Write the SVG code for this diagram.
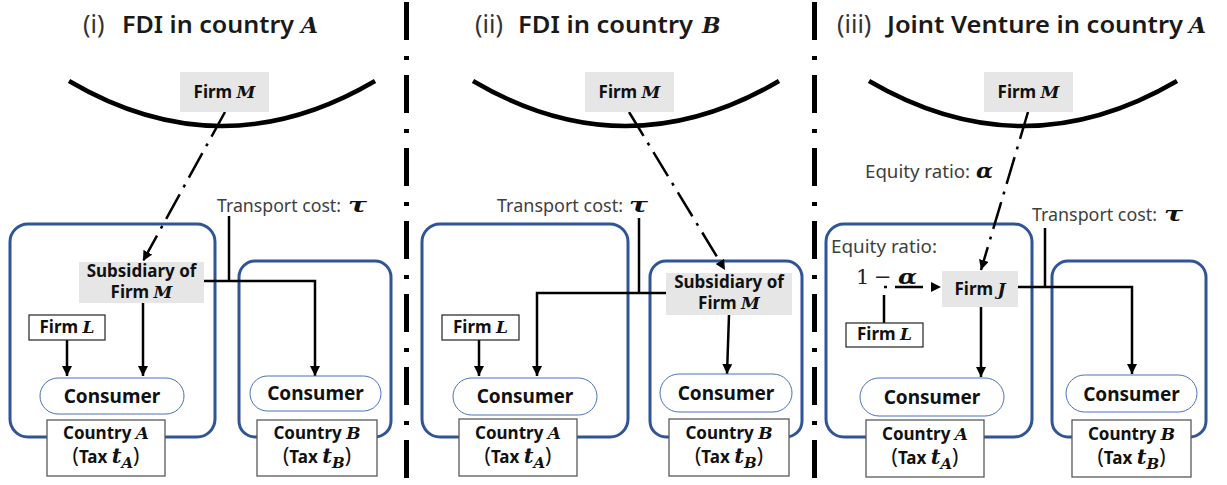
<svg xmlns="http://www.w3.org/2000/svg" width="1227" height="485" viewBox="0 0 1227 485">
  <style>
    .title{font-family:"Noto Sans","Liberation Sans",sans-serif;font-weight:600;font-size:23px;fill:#1a1a1a}
    .paren{font-family:"Noto Sans","Liberation Sans",sans-serif;font-weight:400;font-size:25px;fill:#333}
    .math{font-family:"DejaVu Serif","Liberation Serif",serif;font-style:italic;font-weight:bold;font-size:17px}
    .tm{font-family:"DejaVu Serif","Liberation Serif",serif;font-style:italic;font-weight:bold;font-size:22px;fill:#1a1a1a}
    .lbl{font-family:"Noto Sans","Liberation Sans",sans-serif;font-weight:bold;font-size:17px;fill:#111}
    .big{font-size:19px}
    .np{font-family:"Noto Sans","Liberation Sans",sans-serif;font-weight:400;font-size:21px}
    .tt{font-size:21px}
    .ts{font-size:15px}
    .note{font-family:"Noto Sans","Liberation Sans",sans-serif;font-weight:400;font-size:18px;fill:#404040}
    .nm{font-family:"DejaVu Serif","Liberation Serif",serif;font-style:italic;font-weight:bold;font-size:21px;fill:#111}
    .eq{font-family:"DejaVu Serif","Liberation Serif",serif;font-size:21px;fill:#222}
    .country{fill:none;stroke:#2f5597;stroke-width:3}
    .cons{fill:#fff;stroke:#4a72b8;stroke-width:1}
    .gray{fill:#e7e6e6}
    .tag{fill:#fff;stroke:#595959;stroke-width:1.3}
    .firmL{fill:#fff;stroke:#222;stroke-width:1.2}
    .flow{fill:none;stroke:#000;stroke-width:2.5}
    .own{fill:none;stroke:#000;stroke-width:2.5;stroke-dasharray:28 8 3 8}
    .curve{fill:none;stroke:#000;stroke-width:4.5}
    .divider{stroke:#000;stroke-width:5;stroke-dasharray:38 16 4 15}
  </style>
  <defs>
    <marker id="arr" viewBox="0 0 10 10" refX="10" refY="5" markerWidth="10" markerHeight="10" markerUnits="userSpaceOnUse" orient="auto">
      <path d="M0,0 L10,5 L0,10 z" fill="#000"/>
    </marker>
  </defs>

  <rect width="1227" height="485" fill="#fff"/>

  <!-- panel separators -->
  <g id="dividers">
    <line class="divider" x1="406.5" y1="2" x2="406.5" y2="485"/>
    <line class="divider" x1="814.5" y1="2" x2="814.5" y2="485"/>
  </g>

  <!-- titles -->
  <g id="title-i">
    <text class="paren" x="83" y="33">(i)</text>
    <text class="title" x="122" y="33" textLength="172" lengthAdjust="spacingAndGlyphs">FDI in country</text>
    <text class="tm" x="301" y="33">A</text>
  </g>
  <g id="title-ii">
    <text class="paren" x="475" y="33">(ii)</text>
    <text class="title" x="518" y="33" textLength="175" lengthAdjust="spacingAndGlyphs">FDI in country</text>
    <text class="tm" x="702" y="33">B</text>
  </g>
  <g id="title-iii">
    <text class="paren" x="837" y="33">(iii)</text>
    <text class="title" x="887" y="33" textLength="296" lengthAdjust="spacingAndGlyphs">Joint Venture in country</text>
    <text class="tm" x="1189" y="33">A</text>
  </g>

  <!-- border curves -->
  <g id="borders">
    <path class="curve" d="M69,81 Q222,171 375,81"/>
    <path class="curve" d="M473,81 Q626,171 779,81"/>
    <path class="curve" d="M869,81 Q1023,171 1177,81"/>
  </g>

  <!-- country frames -->
  <g id="countries">
    <rect id="i-countryA" class="country" x="10" y="224" width="205" height="213" rx="18"/>
    <rect id="i-countryB" class="country" x="239" y="261" width="152" height="176" rx="16"/>
    <rect id="ii-countryA" class="country" x="422" y="224" width="206" height="213" rx="18"/>
    <rect id="ii-countryB" class="country" x="650" y="261" width="152" height="176" rx="16"/>
    <rect id="iii-countryA" class="country" x="826" y="224" width="206" height="213" rx="18"/>
    <rect id="iii-countryB" class="country" x="1052" y="261" width="154" height="176" rx="16"/>
  </g>

  <!-- connectors -->
  <g id="connectors">
    <!-- panel i -->
    <path class="own" d="M225,112 L143,261" marker-end="url(#arr)"/>
    <path class="flow" d="M229,216 V281"/>
    <path class="flow" d="M204,281 H315 V376" marker-end="url(#arr)"/>
    <path class="flow" d="M143,303 V376" marker-end="url(#arr)"/>
    <path class="flow" d="M67,340 V376" marker-end="url(#arr)"/>
    <!-- panel ii -->
    <path class="own" d="M629,112 L725,270" marker-end="url(#arr)"/>
    <path class="flow" d="M639,218 V293"/>
    <path class="flow" d="M666,293 H537 V376" marker-end="url(#arr)"/>
    <path class="flow" d="M729,315 L727,374" marker-end="url(#arr)"/>
    <path class="flow" d="M479,340 V376" marker-end="url(#arr)"/>
    <!-- panel iii -->
    <path class="own" d="M1028,112 L981,270" marker-end="url(#arr)"/>
    <path class="own" d="M884,323 V287 H941" marker-end="url(#arr)"/>
    <path class="flow" d="M1045,228 V287"/>
    <path class="flow" d="M1018,287 H1132 V374" marker-end="url(#arr)"/>
    <path class="flow" d="M981,307 V377" marker-end="url(#arr)"/>
  </g>

  <!-- panel i nodes -->
  <g id="i-firmM">
    <rect class="gray" x="180" y="72" width="89" height="40"/>
    <text class="lbl" x="224.5" y="98" text-anchor="middle">Firm <tspan class="math">M</tspan></text>
  </g>
  <g id="i-subsidiary">
    <rect class="gray" x="79" y="262" width="125" height="41"/>
    <text class="lbl" x="141.5" y="277" text-anchor="middle">Subsidiary of</text>
    <text class="lbl" x="141.5" y="298" text-anchor="middle">Firm <tspan class="math">M</tspan></text>
  </g>
  <g id="i-transport">
    <text class="note" x="217" y="212" textLength="124" lengthAdjust="spacingAndGlyphs">Transport cost:</text>
    <text class="nm" x="348" y="212" textLength="19" lengthAdjust="spacingAndGlyphs">τ</text>
  </g>
  <g id="i-firmL">
    <rect class="firmL" x="29" y="315" width="76" height="25"/>
    <text class="lbl" x="67" y="333" text-anchor="middle">Firm <tspan class="math">L</tspan></text>
  </g>
  <g id="i-consumerA">
    <rect class="cons" x="40" y="378" width="144" height="36" rx="18"/>
    <text class="lbl big" x="112" y="403" text-anchor="middle">Consumer</text>
  </g>
  <g id="i-consumerB">
    <rect class="cons" x="250" y="376" width="131" height="35" rx="17.5"/>
    <text class="lbl big" x="315.5" y="400" text-anchor="middle">Consumer</text>
  </g>
  <g id="i-tagA">
    <rect class="tag" x="47" y="420" width="118" height="56"/>
    <text class="lbl" x="106" y="439" text-anchor="middle">Country <tspan class="math">A</tspan></text>
    <text class="lbl" x="106" y="463" text-anchor="middle"><tspan class="np">(</tspan>Tax <tspan class="math tt">t</tspan><tspan class="math ts" dy="5">A</tspan><tspan class="np" dy="-5">)</tspan></text>
  </g>
  <g id="i-tagB">
    <rect class="tag" x="257" y="420" width="120" height="56"/>
    <text class="lbl" x="317" y="439" text-anchor="middle">Country <tspan class="math">B</tspan></text>
    <text class="lbl" x="317" y="463" text-anchor="middle"><tspan class="np">(</tspan>Tax <tspan class="math tt">t</tspan><tspan class="math ts" dy="5">B</tspan><tspan class="np" dy="-5">)</tspan></text>
  </g>

  <!-- panel ii nodes -->
  <g id="ii-firmM">
    <rect class="gray" x="585" y="72" width="89" height="40"/>
    <text class="lbl" x="629.5" y="98" text-anchor="middle">Firm <tspan class="math">M</tspan></text>
  </g>
  <g id="ii-subsidiary">
    <rect class="gray" x="666" y="273" width="126" height="42"/>
    <text class="lbl" x="729" y="288" text-anchor="middle">Subsidiary of</text>
    <text class="lbl" x="729" y="309" text-anchor="middle">Firm <tspan class="math">M</tspan></text>
  </g>
  <g id="ii-transport">
    <text class="note" x="497" y="212" textLength="126" lengthAdjust="spacingAndGlyphs">Transport cost:</text>
    <text class="nm" x="629" y="212" textLength="19" lengthAdjust="spacingAndGlyphs">τ</text>
  </g>
  <g id="ii-firmL">
    <rect class="firmL" x="442" y="315" width="77" height="25"/>
    <text class="lbl" x="480.5" y="333" text-anchor="middle">Firm <tspan class="math">L</tspan></text>
  </g>
  <g id="ii-consumerA">
    <rect class="cons" x="453" y="378" width="144" height="37" rx="18.5"/>
    <text class="lbl big" x="525" y="403" text-anchor="middle">Consumer</text>
  </g>
  <g id="ii-consumerB">
    <rect class="cons" x="660" y="374" width="132" height="38" rx="19"/>
    <text class="lbl big" x="726" y="400" text-anchor="middle">Consumer</text>
  </g>
  <g id="ii-tagA">
    <rect class="tag" x="459" y="419" width="118" height="57"/>
    <text class="lbl" x="518" y="439" text-anchor="middle">Country <tspan class="math">A</tspan></text>
    <text class="lbl" x="518" y="463" text-anchor="middle"><tspan class="np">(</tspan>Tax <tspan class="math tt">t</tspan><tspan class="math ts" dy="5">A</tspan><tspan class="np" dy="-5">)</tspan></text>
  </g>
  <g id="ii-tagB">
    <rect class="tag" x="669" y="419" width="120" height="57"/>
    <text class="lbl" x="729" y="439" text-anchor="middle">Country <tspan class="math">B</tspan></text>
    <text class="lbl" x="729" y="463" text-anchor="middle"><tspan class="np">(</tspan>Tax <tspan class="math tt">t</tspan><tspan class="math ts" dy="5">B</tspan><tspan class="np" dy="-5">)</tspan></text>
  </g>

  <!-- panel iii nodes -->
  <g id="iii-firmM">
    <rect class="gray" x="984" y="72" width="89" height="40"/>
    <text class="lbl" x="1028.5" y="98" text-anchor="middle">Firm <tspan class="math">M</tspan></text>
  </g>
  <g id="iii-equityM">
    <text class="note" x="865" y="178" textLength="105" lengthAdjust="spacingAndGlyphs">Equity ratio:</text>
    <text class="nm" x="976" y="178" textLength="17" lengthAdjust="spacingAndGlyphs">α</text>
  </g>
  <g id="iii-equityL">
    <text class="note" x="831" y="253" textLength="106" lengthAdjust="spacingAndGlyphs">Equity ratio:</text>
    <text class="eq" x="856" y="284">1</text>
    <text class="eq" x="874" y="284">−</text>
    <text class="nm" x="898" y="284" textLength="19" lengthAdjust="spacingAndGlyphs">α</text>
  </g>
  <g id="iii-firmJ">
    <rect class="gray" x="942" y="271" width="76" height="36"/>
    <text class="lbl" x="980" y="295" text-anchor="middle">Firm <tspan class="math">J</tspan></text>
  </g>
  <g id="iii-firmL">
    <rect class="firmL" x="846" y="323" width="77" height="24"/>
    <text class="lbl" x="884.5" y="340" text-anchor="middle">Firm <tspan class="math">L</tspan></text>
  </g>
  <g id="iii-transport">
    <text class="note" x="1032" y="221" textLength="125" lengthAdjust="spacingAndGlyphs">Transport cost:</text>
    <text class="nm" x="1164" y="221" textLength="19" lengthAdjust="spacingAndGlyphs">τ</text>
  </g>
  <g id="iii-consumerA">
    <rect class="cons" x="860" y="378" width="144" height="38" rx="19"/>
    <text class="lbl big" x="932" y="404" text-anchor="middle">Consumer</text>
  </g>
  <g id="iii-consumerB">
    <rect class="cons" x="1066" y="375" width="131" height="37" rx="18.5"/>
    <text class="lbl big" x="1131.5" y="401" text-anchor="middle">Consumer</text>
  </g>
  <g id="iii-tagA">
    <rect class="tag" x="866" y="420" width="118" height="57"/>
    <text class="lbl" x="925" y="440" text-anchor="middle">Country <tspan class="math">A</tspan></text>
    <text class="lbl" x="925" y="464" text-anchor="middle"><tspan class="np">(</tspan>Tax <tspan class="math tt">t</tspan><tspan class="math ts" dy="5">A</tspan><tspan class="np" dy="-5">)</tspan></text>
  </g>
  <g id="iii-tagB">
    <rect class="tag" x="1072" y="420" width="119" height="57"/>
    <text class="lbl" x="1131.5" y="440" text-anchor="middle">Country <tspan class="math">B</tspan></text>
    <text class="lbl" x="1131.5" y="464" text-anchor="middle"><tspan class="np">(</tspan>Tax <tspan class="math tt">t</tspan><tspan class="math ts" dy="5">B</tspan><tspan class="np" dy="-5">)</tspan></text>
  </g>
</svg>
